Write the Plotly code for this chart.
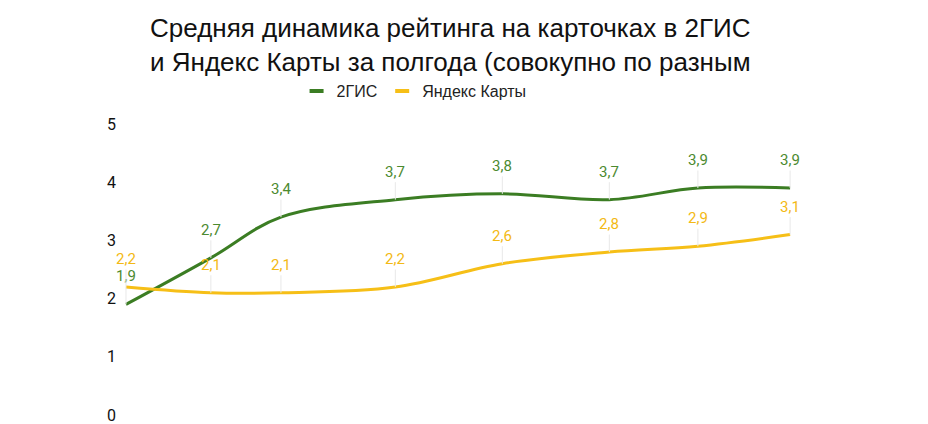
import plotly.graph_objects as go

# days from start of the half-year period (points are not evenly spaced)
days = [0, 23, 42, 73, 102, 131, 155, 180]
gis = [1.9, 2.7, 3.4, 3.7, 3.8, 3.7, 3.9, 3.9]
yandex = [2.2, 2.1, 2.1, 2.2, 2.6, 2.8, 2.9, 3.1]
names = ["2ГИС", "Яндекс Карты"]
title_txt = "Средняя динамика рейтинга на карточках в 2ГИС<br>и Яндекс Карты за полгода (совокупно по разным"

GREEN = "#3b7d23"
GREEN_TXT = "#4c8a30"
YELLOW = "#f6bf17"
YELLOW_TXT = "#f3b914"

fig = go.Figure()

for vals, col in [(gis, GREEN), (yandex, YELLOW)]:
    fig.add_trace(go.Scatter(x=days, y=vals, mode="lines",
                             line=dict(color=col, width=3, shape="spline", smoothing=1),
                             showlegend=False, hoverinfo="y"))

# legend entries: short thick dashes
for nm, col in zip(names, [GREEN, YELLOW]):
    fig.add_trace(go.Scatter(x=[None], y=[None], mode="markers", name=nm,
                             marker=dict(symbol="line-ew", size=10,
                                         line=dict(color=col, width=4))))

# value labels with thin leader lines
for vals, col in [(gis, GREEN_TXT), (yandex, YELLOW_TXT)]:
    for d, v in zip(days, vals):
        fig.add_annotation(x=d, y=v, text=str(v).replace(".", ","),
                           showarrow=True, arrowhead=0, arrowwidth=1,
                           arrowcolor="#e8e8e8", ax=0, ay=-28,
                           font=dict(family="Roboto", size=15, color=col))

# title as annotation (multi-line positioning is easier)
fig.add_annotation(text=title_txt, xref="paper", yref="paper",
                   x=(450 - 122) / 798, y=1 + (124 - 11) / 291,
                   xanchor="center", yanchor="top", showarrow=False,
                   font=dict(family="Liberation Sans, Arial", size=26, color="#111111"))

fig.update_layout(
    width=928, height=424,
    margin=dict(l=122, r=8, t=124, b=9, autoexpand=False),
    paper_bgcolor="white", plot_bgcolor="white",
    legend=dict(orientation="h", x=0.366, xanchor="center", y=1 + (124 - 91) / 291,
                yanchor="middle",
                font=dict(family="Liberation Sans, Arial", size=16, color="#222222"),
                bgcolor="rgba(0,0,0,0)"),
    showlegend=True,
)

fig.update_xaxes(range=[-1.08, 215.2], visible=False, showgrid=False, zeroline=False)
fig.update_yaxes(range=[0, 5], tickvals=[0, 1, 2, 3, 4, 5], showgrid=False,
                 zeroline=False, showline=False, ticks="", ticklabelstandoff=5,
                 ticklabeloverflow="allow", automargin=False,
                 tickfont=dict(family="Roboto", size=16, color="#111111"))

fig.write_html("out.html", config={"displayModeBar": False},
               post_script="document.body.style.margin='0';")
